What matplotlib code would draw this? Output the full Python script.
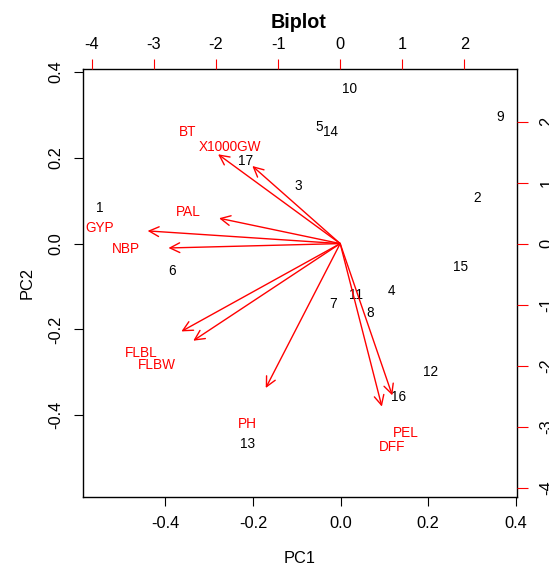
import numpy as np
import matplotlib
matplotlib.use('Agg')
import matplotlib.pyplot as plt

plt.rcParams['font.family'] = ['Liberation Sans', 'DejaVu Sans']
plt.rcParams['axes.unicode_minus'] = False

# PCA scores (observations)
obs_labels = ['1', '2', '3', '4', '5', '6', '7', '8', '9', '10',
              '11', '12', '13', '14', '15', '16', '17']
pc1_scores = [-0.551, 0.311, -0.097, 0.117, -0.050, -0.385, -0.018, 0.067, 0.364,
              0.021, 0.035, 0.206, -0.212, -0.024, 0.274, 0.133, -0.216]
pc2_scores = [0.083, 0.106, 0.134, -0.111, 0.272, -0.064, -0.141, -0.162, 0.295,
              0.360, -0.120, -0.300, -0.468, 0.260, -0.055, -0.358, 0.192]

# variable loadings
var_labels = ['BT', 'X1000GW', 'PAL', 'GYP', 'NBP', 'FLBL', 'FLBW', 'PH', 'PEL', 'DFF']
pc1_load = [-2.46, -1.77, -2.44, -3.88, -3.46, -3.20, -2.96, -1.50, 1.05, 0.84]
pc2_load = [1.83, 1.59, 0.52, 0.26, -0.09, -1.80, -1.99, -2.96, -3.11, -3.34]

xlim = (-0.589, 0.402)
ylim = (-0.590, 0.406)
xlim2 = (-4.15, 2.845)
ylim2 = (-4.149, 2.857)

fig = plt.figure(figsize=(5.49, 5.70), dpi=100)
pos = [82.7 / 549, 73.3 / 570, 434 / 549, 427.4 / 570]
ax = fig.add_axes(pos)
ax.set_xlim(xlim)
ax.set_ylim(ylim)
for s in ax.spines.values():
    s.set_linewidth(1.0)
ax.set_xticks([-0.4, -0.2, 0.0, 0.2, 0.4])
ax.set_yticks([-0.4, -0.2, 0.0, 0.2, 0.4])
ax.set_xticklabels(['-0.4', '-0.2', '0.0', '0.2', '0.4'])
ax.set_yticklabels(['-0.4', '-0.2', '0.0', '0.2', '0.4'], rotation=90, va='center')
ax.tick_params(axis='x', length=6.5, pad=7.5, labelsize=11.8)
ax.tick_params(axis='y', length=6.5, pad=7.5, labelsize=11.8)
ax.set_xlabel('PC1', fontsize=11.8, labelpad=14)
ax.set_ylabel('PC2', fontsize=11.8, labelpad=10)

for lab, x, y in zip(obs_labels, pc1_scores, pc2_scores):
    ax.text(x, y, lab, ha='center', va='center', fontsize=9.8, color='black')

# loadings axes (top / right)
ax2 = fig.add_axes(pos, frameon=False)
ax2.set_xlim(xlim2)
ax2.set_ylim(ylim2)
ax2.xaxis.tick_top()
ax2.yaxis.tick_right()
ax2.set_xticks([-4, -3, -2, -1, 0, 1, 2])
ax2.set_yticks([-4, -3, -2, -1, 0, 1, 2])
ax2.set_xticklabels(['-4', '-3', '-2', '-1', '0', '1', '2'])
ax2.set_yticklabels(['-4', '-3', '-2', '-1', '0', '1', '2'], rotation=90, va='center')
ax2.tick_params(axis='x', colors='red', labelcolor='black', length=7.2, pad=5.5, labelsize=11.8)
ax2.tick_params(axis='y', colors='red', labelcolor='black', length=8, pad=8.5, labelsize=11.8)

for lab, x, y in zip(var_labels, pc1_load, pc2_load):
    ax2.annotate('', xy=(0.8 * x, 0.8 * y), xytext=(0, 0),
                 arrowprops=dict(arrowstyle='->,head_length=0.7,head_width=0.35',
                                 color='red', lw=1, shrinkA=0, shrinkB=0,
                                 mutation_scale=10))
    ax2.text(x, y, lab, ha='center', va='center', fontsize=9.8, color='red')

fig.text(299 / 549, 1 - 23 / 570, 'Biplot', ha='center', va='center',
         fontsize=14.2, fontweight='bold')

fig.savefig('out.png', dpi=100)
